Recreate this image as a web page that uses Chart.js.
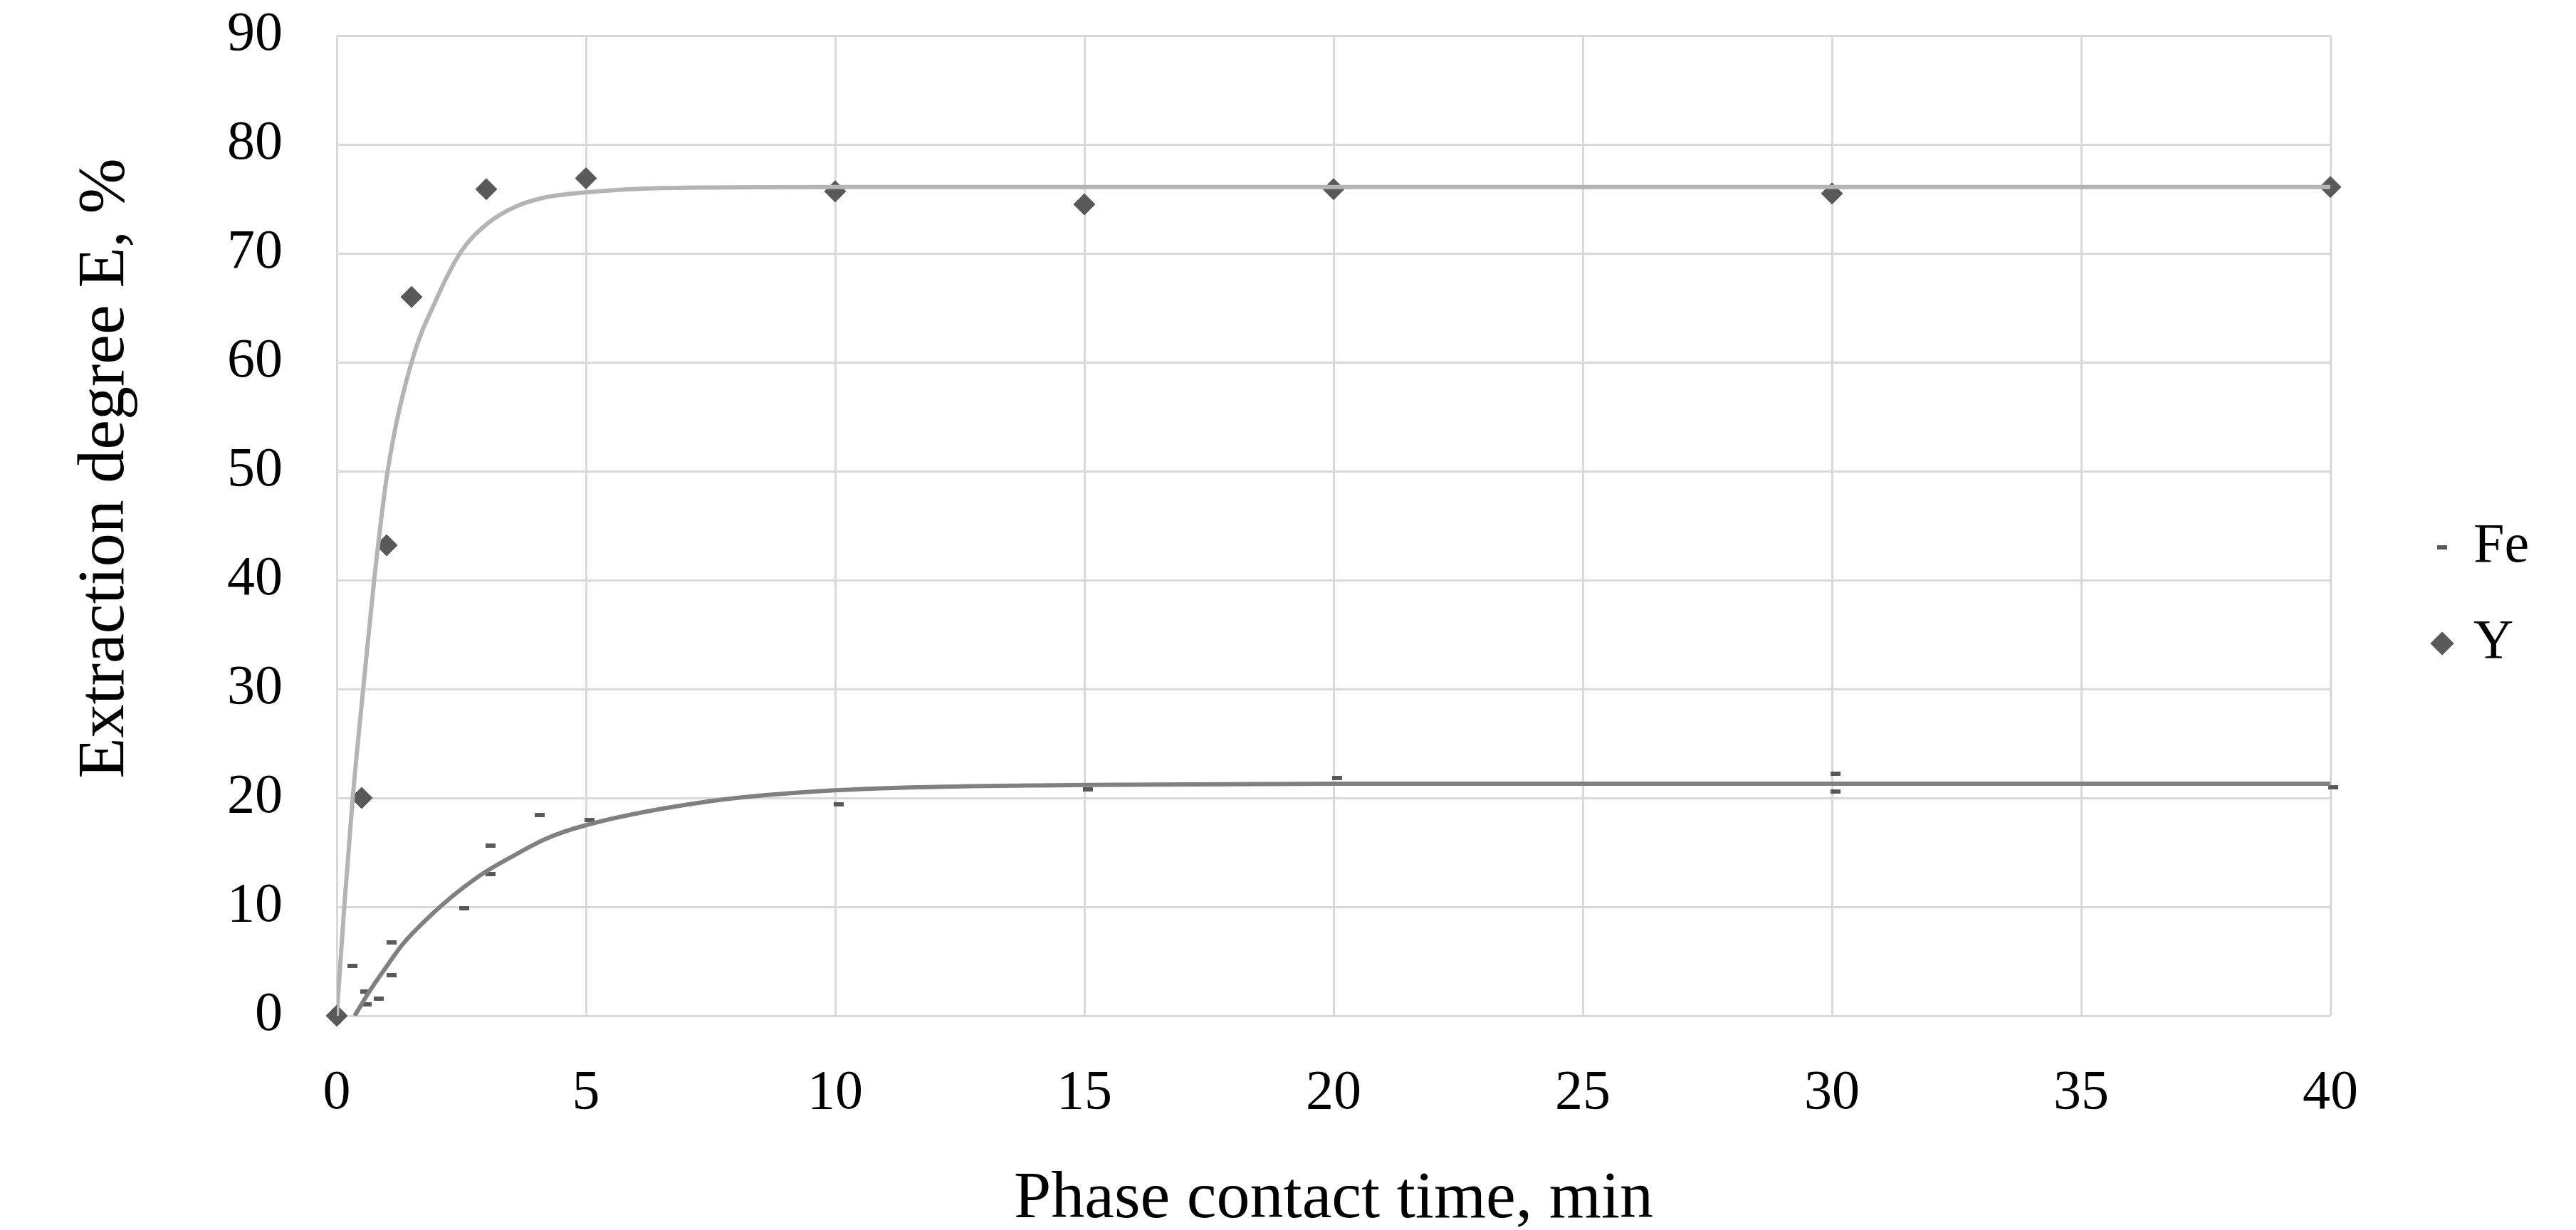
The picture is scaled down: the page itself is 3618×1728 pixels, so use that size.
<!DOCTYPE html>
<html>
<head>
<meta charset="utf-8">
<script src="https://cdn.jsdelivr.net/npm/chart.js@4.4.1/dist/chart.umd.min.js"></script>
<style>
  html, body { margin: 0; padding: 0; background: #fff; }
  canvas { display: block; }
</style>
</head>
<body>
<canvas id="chart" width="3618" height="1728"></canvas>
<script>
// ---- Data ----
const seriesNames = ["Fe", "Y"];

const feTime  = [0.32, 0.57, 0.6, 0.84, 1.1, 1.1, 2.56, 3.08, 3.08, 4.07, 5.07, 10.07, 15.07, 20.07, 30.07, 30.07, 40.05];
const feValue = [4.6, 2.2, 1.05, 1.55, 6.75, 3.7, 9.85, 13.0, 15.6, 18.4, 17.95, 19.4, 20.8, 21.8, 22.2, 20.6, 21.0];

const yTime  = [0, 0.5, 1, 1.5, 3, 5, 10, 15, 20, 30, 40];
const yValue = [0, 20, 43.2, 66, 75.9, 76.9, 75.7, 74.5, 75.9, 75.5, 76.1];

// trend lines, points
const feTrendTime  = [0.36, 0.65, 0.98, 1.31, 1.79, 2.12, 2.55, 2.98, 3.55, 4.17, 5, 7.5, 10, 15, 20, 30, 40];
const feTrendValue = [0, 2.2, 4.4, 6.5, 8.8, 10.2, 11.8, 13.2, 14.7, 16.2, 17.5, 19.7, 20.7, 21.2, 21.3, 21.3, 21.3];

const yTrendTime  = [0, 0.15, 0.32, 0.53, 0.75, 1.02, 1.5, 2.0, 2.5, 3.04, 3.59, 4.14, 5, 6.5, 10, 40];
const yTrendValue = [0, 10, 20, 30, 40, 50, 60, 65.8, 70.2, 72.8, 74.3, 75.1, 75.6, 76.0, 76.1, 76.1];

const xTickValues = [0, 5, 10, 15, 20, 25, 30, 35, 40];
const yTickValues = [0, 10, 20, 30, 40, 50, 60, 70, 80, 90];

const xTitle = "Phase contact time, min";
const yTitle = "Extraction degree E, %";

// ---- helpers ----
const toPoints = (xs, ys) => xs.map((x, i) => ({ x: x, y: ys[i] }));

const markColor = "#595959";
const fontFamily = '"Liberation Serif", "Times New Roman", serif';

// small dash marker for Fe
const feMark = document.createElement("canvas");
feMark.width = 14;
feMark.height = 6;
const fg = feMark.getContext("2d");
fg.fillStyle = markColor;
fg.fillRect(0, 0, 14, 6);

// rotated y-axis title, placed like the original (a bit above the axis centre)
const yTitlePlugin = {
  id: "yTitle",
  afterDraw(chart) {
    const ctx = chart.ctx;
    ctx.save();
    ctx.translate(173, 658);
    ctx.rotate(-Math.PI / 2);
    ctx.font = "94px " + fontFamily;
    ctx.fillStyle = "#000";
    ctx.textAlign = "center";
    ctx.textBaseline = "alphabetic";
    ctx.fillText(yTitle, 0, 0);
    ctx.restore();
  }
};

// move the legend block to where it sits in the original
const legendPlacePlugin = {
  id: "legendPlace",
  afterLayout(chart) {
    const lg = chart.legend;
    if (!lg) return;
    const h = lg.bottom - lg.top;
    lg.left = 3368;
    lg.right = lg.left + lg.width;
    lg.top = 673;
    lg.bottom = lg.top + h;
  }
};

Chart.defaults.font.family = fontFamily;
Chart.defaults.color = "#000";

const ctx = document.getElementById("chart").getContext("2d");
new Chart(ctx, {
  type: "scatter",
  data: {
    datasets: [
      {
        label: seriesNames[0],
        data: toPoints(feTime, feValue),
        pointStyle: feMark,
        pointRadius: 7,
        pointHoverRadius: 7,
        backgroundColor: markColor,
        borderColor: markColor,
        clip: false,
        order: 1
      },
      {
        label: seriesNames[1],
        data: toPoints(yTime, yValue),
        pointStyle: "rectRot",
        pointRadius: 15,
        pointHoverRadius: 15,
        pointBorderWidth: 1,
        backgroundColor: markColor,
        borderColor: markColor,
        clip: false,
        order: 1
      },
      {
        label: "Fe trend",
        data: toPoints(feTrendTime, feTrendValue),
        showLine: true,
        pointRadius: 0,
        borderColor: "#808080",
        borderWidth: 6,
        cubicInterpolationMode: "monotone",
        order: 0
      },
      {
        label: "Y trend",
        data: toPoints(yTrendTime, yTrendValue),
        showLine: true,
        pointRadius: 0,
        borderColor: "#b4b4b4",
        borderWidth: 6,
        cubicInterpolationMode: "monotone",
        order: 0
      }
    ]
  },
  options: {
    responsive: false,
    animation: false,
    devicePixelRatio: 1,
    layout: { padding: { top: 50, right: 151, bottom: 0, left: 0 } },
    plugins: {
      tooltip: { enabled: false },
      legend: {
        position: "right",
        align: "start",
        maxWidth: 194,
        labels: {
          usePointStyle: true,
          boxWidth: 10,
          boxHeight: 23,
          padding: 57,
          color: "#000",
          font: { size: 78 },
          filter: item => item.datasetIndex < 2
        }
      }
    },
    scales: {
      x: {
        type: "linear",
        min: 0,
        max: 40,
        afterBuildTicks: scale => { scale.ticks = xTickValues.map(v => ({ value: v })); },
        afterFit: scale => { scale.height = 301; },
        grid: { color: "#d9d9d9", lineWidth: 3, drawTicks: false },
        border: { display: false },
        ticks: { padding: 63, font: { size: 78 }, color: "#000", maxRotation: 0 },
        title: {
          display: true,
          text: xTitle,
          color: "#000",
          padding: 0,
          font: { size: 94, lineHeight: 0.9 }
        }
      },
      y: {
        type: "linear",
        min: 0,
        max: 90,
        afterBuildTicks: scale => { scale.ticks = yTickValues.map(v => ({ value: v })); },
        afterFit: scale => {
          scale.width = 473;
          // tick padding would otherwise push the plot top down
          scale.paddingTop = 0;
          scale.paddingBottom = 0;
        },
        grid: { color: "#d9d9d9", lineWidth: 3, drawTicks: false },
        border: { display: false },
        ticks: { padding: 76, font: { size: 78 }, color: "#000" }
      }
    }
  },
  plugins: [yTitlePlugin, legendPlacePlugin]
});
</script>
</body>
</html>
